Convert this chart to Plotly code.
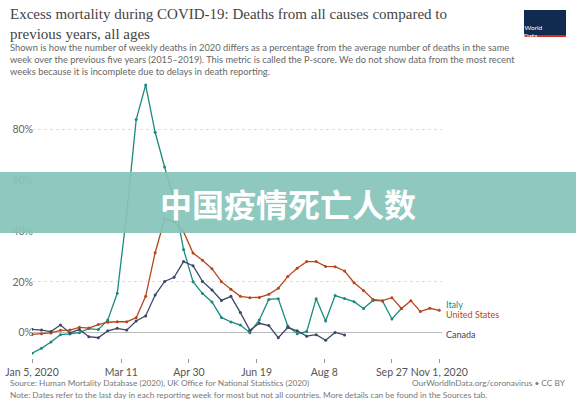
import plotly.graph_objects as go
import pandas as pd

start = "2020-01-05"
italy = [-8.1,-6.2,-3.7,-0.8,-0.5,0,1.6,1.2,5,15.5,47,84,97.6,79,65.3,52,32.8,20.1,15.4,12.1,6,4.2,3,0,5,13.1,13.4,2.6,-0.4,0.4,13.4,4.6,14.6,13.5,12.2,9.5,12.7,12.5,5.4,9.5]
us = [-0.7,-0.4,-0.1,0.9,1,2.1,1.8,3.2,4.1,4.3,4.3,5.9,14.3,31.5,44.8,43.8,39.8,31.4,28.5,25.2,20.1,17.1,14.3,13.8,13.9,15.1,17.5,22.1,25.4,28,28,26.1,26,24.3,19.7,16.6,13.1,12.6,13.8,9.5,12.6,8.3,9.6,8.8]
canada = [1.3,1,0.4,3,-0.1,1.2,-1.6,-2,0.7,1.7,1,4.6,6.6,14.8,20.2,21.8,28,26.4,20.2,16.8,12.7,14.3,7.9,0.9,3.7,2.8,-2,2,0.7,-1.4,-0.8,-3,0.1,-0.9]
tick_dates = ["2020-01-05","2020-03-11","2020-04-30","2020-06-19","2020-08-08","2020-09-27","2020-11-01"]
tick_text = ["Jan 5, 2020","Mar 11","Apr 30","Jun 19","Aug 8","Sep 27","Nov 1, 2020"]
y_ticks = [0,20,40,60,80]
y_text = ["0%","20%","40%","60%","80%"]

L, R, T, B = 32, 442, 79, 358
def px(x): return (x - L) / (R - L)
def py(y): return (B - y) / (B - T)

def dates(n):
    return pd.date_range(start, periods=n, freq="7D")

series = [("Italy", italy, "#1b8a7f"), ("United States", us, "#b8461b"), ("Canada", canada, "#3b4766")]
fig = go.Figure()
for name, vals, col in series:
    fig.add_trace(go.Scatter(x=dates(len(vals)), y=vals, name=name, mode="lines+markers",
                             line=dict(color=col, width=1.3), marker=dict(size=3, color=col)))
label_y = {"Italy": 11.2, "United States": 7.3, "Canada": -0.8}
for name, vals, col in series:
    fig.add_annotation(x=1.0, xref="paper", xanchor="left", xshift=2, y=label_y[name], yref="y",
                       text=name, showarrow=False, font=dict(size=9, color=col))

fig.update_layout(
    width=576, height=407, showlegend=False, plot_bgcolor="white", paper_bgcolor="white",
    margin=dict(l=L, r=576 - R, t=T, b=407 - B),
    font=dict(family="Lato, DejaVu Sans", color="#666"),
    xaxis=dict(range=["2020-01-05","2020-11-03"], tickvals=tick_dates, ticktext=tick_text, tickangle=0,
               automargin=False,
               showgrid=False, ticks="outside", ticklen=4, tickcolor="#999", tickfont=dict(size=10.5, color="#555"),
               showline=False, zeroline=False),
    yaxis=dict(range=[-10, 100], tickvals=y_ticks, ticktext=y_text, showgrid=True, gridcolor="#ddd",
               automargin=False, ticklabelstandoff=-2,
               griddash="dot", zeroline=True, zerolinecolor="#bbb", zerolinewidth=1,
               tickfont=dict(size=10.5, color="#666")),
)
texts = [
    (8, 4, "Excess mortality during COVID-19: Deaths from all causes compared to<br>previous years, all ages", 15, "#444", "Liberation Serif, DejaVu Serif", "left"),
    (8, 40, "Shown is how the number of weekly deaths in 2020 differs as a percentage from the average number of deaths in the same<br>week over the previous five years (2015–2019). This metric is called the P-score. We do not show data from the most recent<br>weeks because it is incomplete due to delays in death reporting.", 9.3, "#666", "Lato, DejaVu Sans", "left"),
    (8, 376, "Source: Human Mortality Database (2020), UK Office for National Statistics (2020)", 8.3, "#777", "Lato, DejaVu Sans", "left"),
    (8, 388, "Note: Dates refer to the last day in each reporting week for most but not all countries. More details can be found in the Sources tab.", 8.3, "#777", "Lato, DejaVu Sans", "left"),
    (568, 376, "OurWorldInData.org/coronavirus • CC BY", 8.3, "#777", "Lato, DejaVu Sans", "right"),
]
for x, y, t, s, c, f, a in texts:
    fig.add_annotation(x=px(x), y=py(y), xref="paper", yref="paper", xanchor=a, yanchor="top",
                       showarrow=False, text=t, align=a, font=dict(size=s, color=c, family=f))
# logo
fig.add_shape(type="rect", xref="paper", yref="paper", x0=px(524), x1=px(566), y0=py(37), y1=py(10),
              fillcolor="#102b4e", line_width=0)
fig.add_shape(type="rect", xref="paper", yref="paper", x0=px(524), x1=px(566), y0=py(37), y1=py(35),
              fillcolor="#d42b21", line_width=0)
fig.add_annotation(x=px(545), y=py(22), xref="paper", yref="paper", showarrow=False,
                   text="Our World<br>in Data", font=dict(size=6.5, color="white"))
# banner overlay
fig.add_shape(type="rect", xref="paper", yref="paper", x0=px(0), x1=px(576), y0=py(233), y1=py(172),
              fillcolor="rgba(134,196,186,0.93)", line_width=0, layer="above")
fig.add_annotation(x=px(288), y=py(203), xref="paper", yref="paper", showarrow=False,
                   text="<b>中国疫情死亡人数</b>", font=dict(size=32, color="white", family="Noto Sans CJK SC"))
fig.write_html("out.html", config={"displayModeBar": False},
               post_script="document.body.style.margin='0';document.body.style.overflow='hidden';")
